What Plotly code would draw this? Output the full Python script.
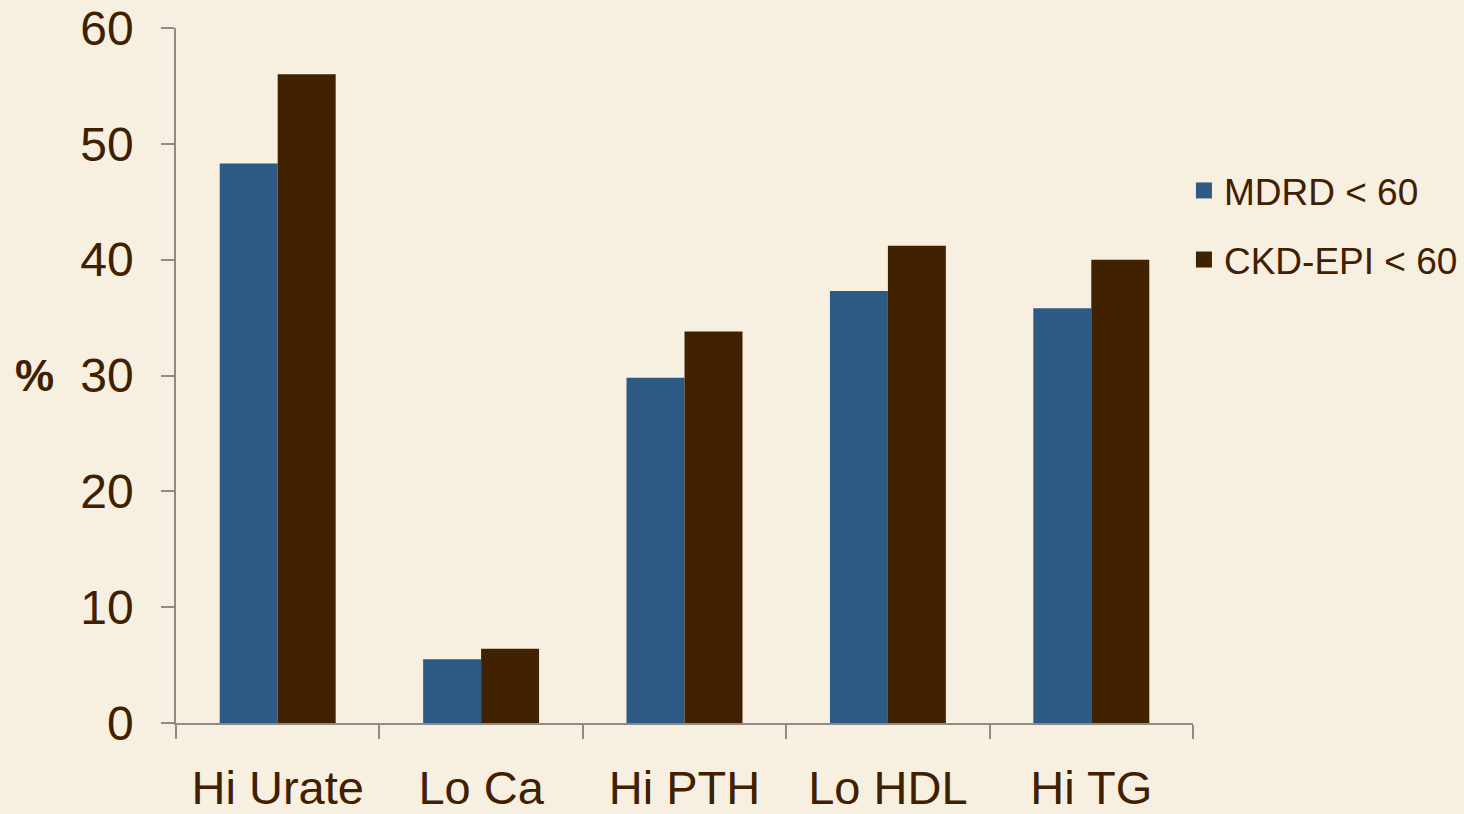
import plotly.graph_objects as go

# Share of patients (%) flagged by each marker, under the two eGFR equations
categories = ["Hi Urate", "Lo Ca", "Hi PTH", "Lo HDL", "Hi TG"]
mdrd_pct = [48.3, 5.5, 29.8, 37.3, 35.8]
ckd_epi_pct = [56.0, 6.4, 33.8, 41.2, 40.0]
series_names = ["MDRD < 60", "CKD-EPI < 60"]
y_ticks = [0, 10, 20, 30, 40, 50, 60]

BLUE = "#2D5985"
BROWN = "#402100"
TEXT = "#402000"
AXIS = "#8E8A86"
FONT = "Liberation Sans, Arial, sans-serif"

fig = go.Figure()
for name, vals, col in [(series_names[0], mdrd_pct, BLUE),
                        (series_names[1], ckd_epi_pct, BROWN)]:
    fig.add_trace(go.Bar(
        x=categories, y=vals, name=name, marker_color=col,
        marker_line_width=0, showlegend=False, legendgroup=name,
    ))
    # square legend swatch
    fig.add_trace(go.Scatter(
        x=[None], y=[None], mode="markers", name=name, legendgroup=name,
        marker=dict(symbol="square", size=18, color=col),
    ))

fig.add_annotation(
    text="<b>%</b>", x=-0.139, xref="paper", xanchor="center",
    y=30, yref="y", yanchor="middle",
    showarrow=False, font=dict(size=44, color=TEXT, family=FONT),
)

fig.update_layout(
    width=1464, height=814,
    margin=dict(l=176, r=271, t=28, b=91, autoexpand=False),
    paper_bgcolor="#F7EFE0",
    plot_bgcolor="rgba(0,0,0,0)",
    barmode="group", bargap=0.43, bargroupgap=0,
    font=dict(family=FONT, color=TEXT),
    legend=dict(
        xref="container", x=0.8087, xanchor="left",
        y=0.716, yanchor="middle",
        font=dict(size=37, color=TEXT, family=FONT),
        bgcolor="rgba(0,0,0,0)", tracegroupgap=18, traceorder="grouped",
    ),
    xaxis=dict(
        showline=True, linecolor=AXIS, linewidth=1.5,
        ticks="outside", tickson="boundaries", ticklen=14,
        tickcolor=AXIS, tickwidth=1.5, automargin=False,
        tickfont=dict(size=47, color=TEXT, family=FONT),
        ticklabelstandoff=23, showgrid=False, zeroline=False,
    ),
    yaxis=dict(
        range=[0, 60], tickvals=y_ticks, automargin=False,
        showline=True, linecolor=AXIS, linewidth=1.5,
        ticks="outside", ticklen=13, tickcolor=AXIS, tickwidth=1.5,
        tickfont=dict(size=48, color=TEXT, family=FONT),
        ticklabelstandoff=18, showgrid=False, zeroline=False,
    ),
)

fig.write_html("out.html")
